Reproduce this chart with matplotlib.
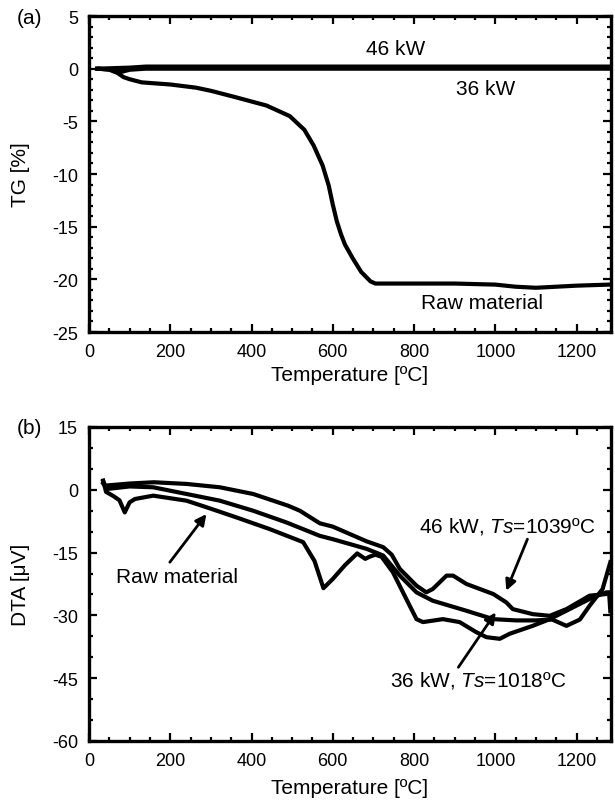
import matplotlib.pyplot as plt
from matplotlib.ticker import MultipleLocator

plt.rcParams['font.family'] = ['Liberation Sans', 'DejaVu Sans']
plt.rcParams['mathtext.fontset'] = 'custom'
plt.rcParams['mathtext.rm'] = 'Liberation Sans'
plt.rcParams['mathtext.it'] = 'Liberation Sans:italic'
plt.rcParams['axes.unicode_minus'] = False

# (a) TG curves
tg_raw_t = [25, 50, 70, 85, 100, 130, 200, 263, 300, 360, 437, 494, 530, 553, 575, 590,
            600, 610, 620, 630, 649, 670, 693, 705, 750, 900, 1000, 1050, 1100, 1200, 1280]
tg_raw_v = [0, -0.1, -0.4, -0.8, -1.0, -1.3, -1.5, -1.8, -2.1, -2.7, -3.5, -4.5, -5.8, -7.3,
            -9.2, -11.1, -12.9, -14.5, -15.7, -16.7, -18.0, -19.3, -20.2, -20.4, -20.4,
            -20.4, -20.5, -20.7, -20.8, -20.6, -20.5]
tg_46_t = [20, 100, 140, 600, 1000, 1283]
tg_46_v = [0.0, 0.1, 0.2, 0.2, 0.2, 0.2]
tg_36_t = [20, 60, 80, 100, 140, 600, 1000, 1283]
tg_36_v = [0.0, -0.1, -0.3, -0.1, 0.0, 0.0, 0.0, 0.0]

# (b) DTA curves
dta_46_t = [35, 40, 100, 160, 240, 322, 404, 490, 519, 568, 600, 683, 724, 745, 765, 806,
            830, 846, 880, 896, 929, 995, 1027, 1043, 1092, 1134, 1175, 1232, 1273, 1283]
dta_46_v = [2.0, 1.0, 1.5, 1.8, 1.4, 0.6, -1.0, -3.8, -5.0, -8.0, -8.8, -12.3, -13.7, -15.5,
            -18.9, -22.9, -24.5, -23.7, -20.5, -20.5, -22.5, -24.9, -26.9, -28.5, -29.7,
            -30.1, -28.5, -25.3, -24.9, -24.5]
dta_36_t = [35, 45, 100, 158, 240, 322, 404, 486, 568, 600, 683, 724, 765, 806, 846, 929,
            995, 1052, 1100, 1140, 1175, 1208, 1232, 1264, 1283]
dta_36_v = [1.5, 0.2, 0.8, 0.6, -1.0, -2.6, -5.0, -7.8, -11.0, -11.8, -14.1, -15.7, -20.5,
            -24.5, -26.5, -28.9, -30.9, -31.2, -31.2, -31.0, -32.5, -31.0, -27.7, -23.7, -17.3]
dta_raw_t = [35, 42, 60, 75, 88, 100, 113, 158, 240, 290, 363, 445, 527, 555, 577, 600, 630,
             660, 680, 690, 705, 720, 748, 781, 806, 822, 871, 912, 953, 978, 1011, 1035,
             1092, 1134, 1199, 1240, 1273, 1280, 1283]
dta_raw_v = [2.2, -0.5, -1.5, -2.5, -5.4, -3.0, -2.2, -1.4, -2.6, -4.2, -6.6, -9.4, -12.5,
             -17.0, -23.5, -21.3, -18.0, -15.2, -16.5, -16.0, -15.5, -16.0, -19.7, -26.1,
             -30.9, -31.6, -30.9, -31.6, -34.0, -35.2, -35.6, -34.4, -32.5, -30.9, -27.7,
             -25.7, -24.5, -24.5, -29.0]

fig = plt.figure(figsize=(6.15, 8.03), dpi=100)
ax1 = fig.add_axes([0.1447, 0.5853, 0.849, 0.3935])
ax2 = fig.add_axes([0.1447, 0.076, 0.849, 0.391])

lw = 3.0
ax1.plot(tg_46_t, tg_46_v, color='black', lw=lw)
ax1.plot(tg_36_t, tg_36_v, color='black', lw=lw)
ax1.plot(tg_raw_t, tg_raw_v, color='black', lw=lw)
ax1.set_xlim(0, 1285)
ax1.set_ylim(-25, 5)
ax1.xaxis.set_major_locator(MultipleLocator(200))
ax1.xaxis.set_minor_locator(MultipleLocator(50))
ax1.yaxis.set_major_locator(MultipleLocator(5))
ax1.yaxis.set_minor_locator(MultipleLocator(1))
ax1.set_ylabel('TG [%]', fontsize=15)
ax1.text(755, 1.9, '46 kW', fontsize=15, ha='center', va='center')
ax1.text(977, -1.9, '36 kW', fontsize=15, ha='center', va='center')
ax1.text(967, -22.2, 'Raw material', fontsize=15, ha='center', va='center')

ax2.plot(dta_46_t, dta_46_v, color='black', lw=lw)
ax2.plot(dta_36_t, dta_36_v, color='black', lw=lw)
ax2.plot(dta_raw_t, dta_raw_v, color='black', lw=lw)
ax2.set_xlim(0, 1285)
ax2.set_ylim(-60, 15)
ax2.xaxis.set_major_locator(MultipleLocator(200))
ax2.xaxis.set_minor_locator(MultipleLocator(50))
ax2.yaxis.set_major_locator(MultipleLocator(15))
ax2.yaxis.set_minor_locator(MultipleLocator(5))
ax2.set_ylabel('DTA [μV]', fontsize=15)

arrow = dict(arrowstyle='-|>', color='black', lw=2, mutation_scale=16, shrinkA=0, shrinkB=0)
ax2.text(217, -20.6, 'Raw material', fontsize=15, ha='center', va='center')
ax2.annotate('', xy=(289, -5.8), xytext=(199, -17.3), arrowprops=arrow)
ax2.text(1028, -8.6, '46 kW, $\\mathit{Ts}$=1039ºC', fontsize=15, ha='center', va='center')
ax2.annotate('', xy=(1027, -24.1), xytext=(1079, -11.8), arrowprops=arrow)
ax2.text(959, -45.2, '36 kW, $\\mathit{Ts}$=1018ºC', fontsize=15, ha='center', va='center')
ax2.annotate('', xy=(1001, -29.3), xytext=(909, -42.4), arrowprops=arrow)

for ax in (ax1, ax2):
    for s in ax.spines.values():
        s.set_linewidth(2.4)
    ax.tick_params(which='both', direction='in', top=True, right=True, labelsize=13, pad=8)
    ax.tick_params(which='major', length=6, width=1.6)
    ax.tick_params(which='minor', length=3, width=1.6)
    ax.set_xlabel('Temperature [ºC]', fontsize=15)
    ax.yaxis.set_label_coords(-0.113, 0.5)
ax1.xaxis.set_label_coords(0.5, -0.105)
ax2.xaxis.set_label_coords(0.5, -0.118)

fig.text(29 / 615, 1 - 19 / 803, '(a)', fontsize=15, ha='center', va='center')
fig.text(29 / 615, 1 - 429 / 803, '(b)', fontsize=15, ha='center', va='center')

fig.savefig('out.png', dpi=100)
